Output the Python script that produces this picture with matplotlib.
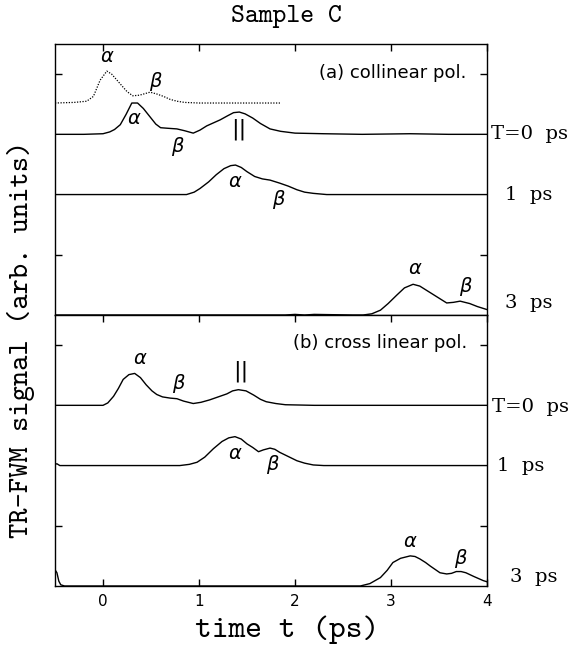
import numpy as np
import matplotlib
matplotlib.use("Agg")
import matplotlib.pyplot as plt

# ---- data (time in ps, signal in arb. units above each baseline) ----
# (a) collinear pol.
a_ref_t = [-0.5, -0.3, -0.17, -0.10, -0.03, 0.04, 0.09, 0.14, 0.20, 0.25, 0.31, 0.38,
           0.49, 0.56, 0.63, 0.70, 0.77, 0.85, 1.0, 1.3, 1.6, 1.85]
a_ref_s = [0.0, 0.01, 0.03, 0.11, 0.38, 0.53, 0.48, 0.39, 0.28, 0.19, 0.12, 0.13,
           0.18, 0.15, 0.11, 0.06, 0.03, 0.01, 0.0, 0.0, 0.0, 0.0]

a_t0_t = [-0.5, -0.2, 0.0, 0.07, 0.12, 0.18, 0.24, 0.30, 0.36, 0.42, 0.49, 0.55, 0.60,
          0.68, 0.77, 0.85, 0.94, 1.01, 1.08, 1.15, 1.22, 1.30, 1.36, 1.42, 1.48, 1.56,
          1.64, 1.74, 1.85, 2.0, 2.3, 2.7, 3.2, 3.6, 4.0]
a_t0_s = [0.0, 0.0, 0.01, 0.04, 0.08, 0.16, 0.33, 0.52, 0.52, 0.43, 0.29, 0.17, 0.11,
          0.10, 0.09, 0.06, 0.02, 0.07, 0.14, 0.19, 0.24, 0.31, 0.36, 0.37, 0.34, 0.27,
          0.18, 0.09, 0.05, 0.02, 0.01, 0.0, 0.01, 0.0, 0.0]

a_t1_t = [-0.5, 0.5, 0.87, 0.95, 1.01, 1.10, 1.18, 1.26, 1.33, 1.38, 1.44, 1.50, 1.58,
          1.66, 1.74, 1.84, 1.93, 2.02, 2.10, 2.19, 2.33, 3.0, 4.0]
a_t1_s = [0.0, 0.0, 0.0, 0.04, 0.10, 0.21, 0.33, 0.43, 0.48, 0.49, 0.45, 0.38, 0.30,
          0.26, 0.24, 0.19, 0.14, 0.08, 0.04, 0.02, 0.0, 0.0, 0.0]

a_t3_t = [-0.5, 1.0, 1.9, 2.0, 2.1, 2.2, 2.6, 2.71, 2.80, 2.89, 2.97, 3.06, 3.14, 3.23,
          3.30, 3.38, 3.48, 3.58, 3.65, 3.72, 3.82, 3.90, 4.0]
a_t3_s = [0.0, 0.0, 0.0, 0.01, 0.0, 0.01, 0.0, 0.0, 0.02, 0.08, 0.19, 0.33, 0.45, 0.51,
          0.48, 0.40, 0.30, 0.20, 0.21, 0.23, 0.19, 0.14, 0.09]

# (b) cross linear pol.
b_t0_t = [-0.5, -0.2, 0.0, 0.05, 0.11, 0.16, 0.21, 0.27, 0.33, 0.39, 0.45, 0.51, 0.56,
          0.62, 0.70, 0.77, 0.84, 0.94, 1.02, 1.11, 1.20, 1.29, 1.35, 1.41, 1.49, 1.57,
          1.64, 1.70, 1.80, 1.90, 2.2, 2.6, 3.0, 3.5, 4.0]
b_t0_s = [0.0, 0.0, 0.0, 0.04, 0.15, 0.28, 0.43, 0.51, 0.53, 0.46, 0.34, 0.24, 0.18,
          0.14, 0.12, 0.11, 0.07, 0.03, 0.05, 0.09, 0.14, 0.19, 0.24, 0.26, 0.24, 0.17,
          0.10, 0.06, 0.03, 0.01, 0.0, 0.0, 0.0, 0.0, 0.0]

b_t1_t = [-0.5, -0.48, -0.45, 0.0, 0.5, 0.80, 0.90, 0.98, 1.06, 1.15, 1.24, 1.31, 1.375,
          1.44, 1.50, 1.56, 1.62, 1.67, 1.74, 1.79, 1.84, 1.93, 2.02, 2.10, 2.19, 2.3,
          3.0, 4.0]
b_t1_s = [0.02, 0.03, 0.0, 0.0, 0.0, 0.0, 0.02, 0.055, 0.14, 0.28, 0.40, 0.46, 0.48,
          0.44, 0.36, 0.30, 0.23, 0.26, 0.29, 0.27, 0.22, 0.15, 0.08, 0.04, 0.01, 0.0,
          0.0, 0.0]

b_t3_t = [-0.5, -0.48, -0.46, -0.44, -0.40, 0.0, 1.0, 2.0, 2.6, 2.68, 2.78, 2.89, 2.96,
          3.02, 3.10, 3.20, 3.25, 3.30, 3.36, 3.41, 3.51, 3.58, 3.63, 3.68, 3.73, 3.78,
          3.86, 3.96, 4.0]
b_t3_s = [0.27, 0.22, 0.08, 0.02, 0.0, 0.0, 0.0, 0.0, 0.0, 0.0, 0.04, 0.14, 0.26,
          0.39, 0.46, 0.50, 0.49, 0.45, 0.39, 0.33, 0.22, 0.20, 0.21, 0.24, 0.24, 0.22,
          0.16, 0.09, 0.07]

# baselines of the stacked traces
base_ref, base_t0, base_t1, base_t3 = 3.52, 3.0, 2.0, 0.0
xticks = [0, 1, 2, 3, 4]
yticks = [1, 4]

mono = ["cmtt10", "DejaVu Sans Mono"]
serif = ["DejaVu Serif"]
sans = ["DejaVu Sans"]

fig = plt.figure(figsize=(5.81, 6.61), dpi=100)
W, H = 581.0, 661.0
ax_a = fig.add_axes([55 / W, 1 - 315 / H, 432 / W, 271 / H])
ax_b = fig.add_axes([55 / W, 1 - 586 / H, 432 / W, 271 / H])

for ax in (ax_a, ax_b):
    ax.set_xlim(-0.5, 4.0)
    ax.set_ylim(0, 4.5)
    ax.set_yticks(yticks)
    ax.set_yticklabels([])
    ax.set_xticks(xticks)
    ax.tick_params(direction="in", length=5, width=1, left=True, right=True,
                   top=True, bottom=True, labelsize=11, pad=6)
    for sp in ax.spines.values():
        sp.set_linewidth(1.0)

ax_a.tick_params(bottom=False, labelbottom=False)
ax_b.set_xticklabels([str(v) for v in xticks], family=sans)

lw = 1.0
ax_a.plot(a_ref_t, np.array(a_ref_s) + base_ref, color="k", lw=0.9, ls=(0, (1, 1.2)))
ax_a.plot(a_t0_t, np.array(a_t0_s) + base_t0, color="k", lw=lw)
ax_a.plot(a_t1_t, np.array(a_t1_s) + base_t1, color="k", lw=lw)
ax_a.plot(a_t3_t, np.array(a_t3_s) + base_t3, color="k", lw=lw)

ax_b.plot(b_t0_t, np.array(b_t0_s) + base_t0, color="k", lw=lw)
ax_b.plot(b_t1_t, np.array(b_t1_s) + base_t1, color="k", lw=lw)
ax_b.plot(b_t3_t, np.array(b_t3_s) + base_t3, color="k", lw=lw)

# panel captions
ax_a.text(3.79, 4.02, "(a) collinear pol.", ha="right", va="center", fontsize=13, family=sans)
ax_b.text(3.79, 4.03, "(b) cross linear pol.", ha="right", va="center", fontsize=13, family=sans)

# peak labels
gk = dict(ha="center", va="center", fontsize=14, family=sans, style="italic")
for ax, labels in (
    (ax_a, [(0.04, 4.29, "α"), (0.54, 3.88, "β"), (0.32, 3.27, "α"), (0.77, 2.80, "β"),
            (1.375, 2.21, "α"), (1.83, 1.91, "β"), (3.25, 0.78, "α"), (3.77, 0.47, "β")]),
    (ax_b, [(0.385, 3.78, "α"), (0.78, 3.37, "β"), (1.375, 2.20, "α"), (1.76, 2.01, "β"),
            (3.20, 0.74, "α"), (3.72, 0.46, "β")]),
):
    for x, y, s in labels:
        ax.text(x, y, s, **gk)

ax_a.text(1.41, 3.09, "||", ha="center", va="center", fontsize=16, family=sans)
ax_b.text(1.43, 3.56, "||", ha="center", va="center", fontsize=16, family=sans)

# delay labels on the right
rk = dict(ha="left", va="center", fontsize=14, family=serif, clip_on=False)
ax_a.text(4.04, 3.0, "T=0  ps", **rk)
ax_a.text(4.19, 2.0, "1  ps", **rk)
ax_a.text(4.19, 0.2, "3  ps", **rk)
ax_b.text(4.05, 2.97, "T=0  ps", **rk)
ax_b.text(4.10, 1.99, "1  ps", **rk)
ax_b.text(4.24, 0.15, "3  ps", **rk)

fig.text(286 / W, 1 - 16 / H, "Sample C", ha="center", va="center", fontsize=19, family=mono)
fig.text(21 / W, 1 - 339 / H, "TR-FWM signal (arb. units)", ha="center", va="center",
         rotation=90, fontsize=21, family=mono)
fig.text(287 / W, 1 - 630 / H, "time t (ps)", ha="center", va="center", fontsize=23, family=mono)

fig.savefig("out.png", dpi=100)
